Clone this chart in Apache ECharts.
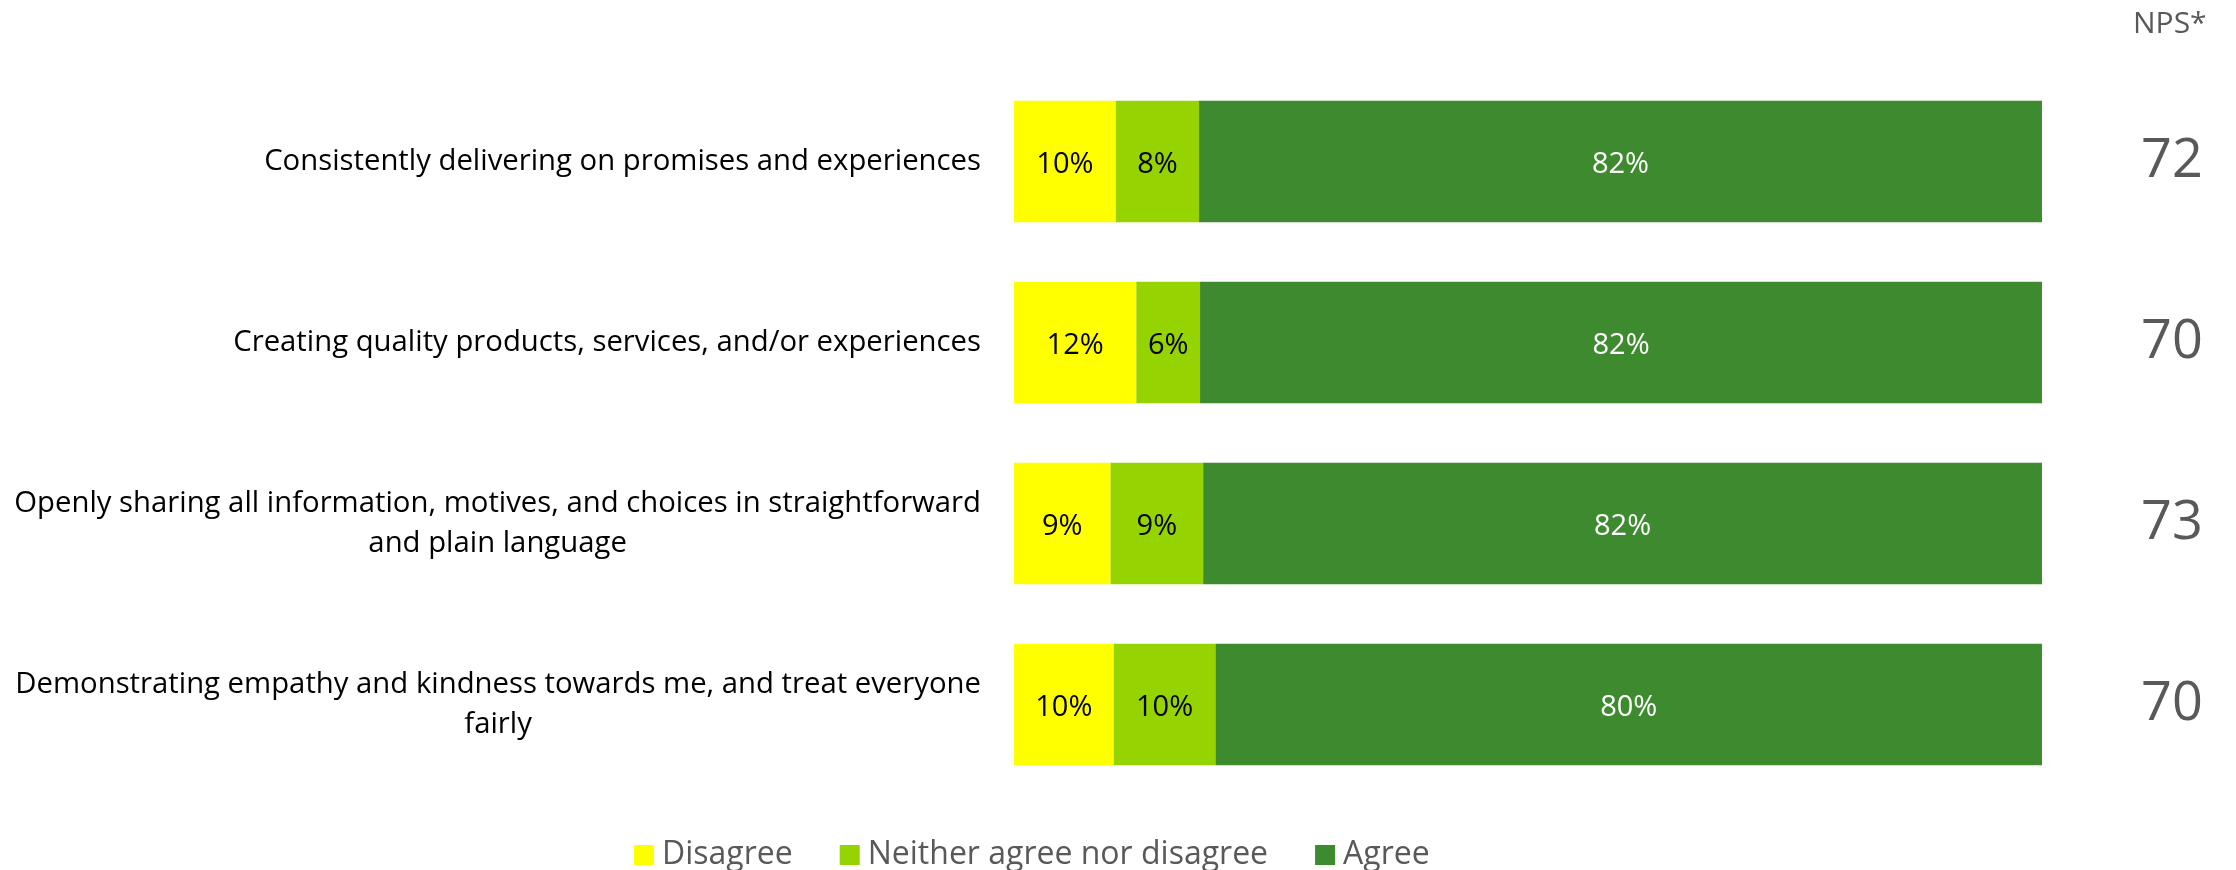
<!DOCTYPE html>
<html>
<head>
<meta charset="utf-8">
<script src="https://cdn.jsdelivr.net/npm/echarts@6/dist/echarts.min.js"></script>
<style>
html,body{margin:0;padding:0;background:#fff;}
#chart{width:2236px;height:870px;}
</style>
</head>
<body>
<div id="chart"></div>
<script>
const categories = [
  "Consistently delivering on promises and experiences",
  "Creating quality products, services, and/or experiences",
  "Openly sharing all information, motives, and choices in straightforward\nand plain language",
  "Demonstrating empathy and kindness towards me, and treat everyone\nfairly"
];
const disagree = [9.9, 11.9, 9.4, 9.7];
const neither = [8.1, 6.2, 9.0, 9.9];
const agree = [82.0, 81.9, 81.6, 80.4];
const npsValues = ["72", "70", "73", "70"];
const seriesNames = ["Disagree", "Neither agree nor disagree", "Agree"];

const FONT = "'Open Sans', sans-serif";
const chart = echarts.init(document.getElementById('chart'), null, {renderer: 'canvas'});

function pct(p) { return Math.round(p.value) + '%'; }

const option = {
  animation: false,
  textStyle: { fontFamily: FONT },
  grid: { left: 1014, right: 194, top: 71, bottom: 75, containLabel: false },
  legend: {
    left: 629, top: 834,
    itemWidth: 20, itemHeight: 20, itemGap: 47,
    icon: 'rect',
    textStyle: { fontSize: 32, color: '#595959', fontFamily: FONT, padding: [0, 0, 0, 3] },
    data: seriesNames
  },
  graphic: [{
    type: 'text', left: 2133, top: 9,
    style: { text: 'NPS*', fontSize: 30, fill: '#595959', fontFamily: FONT }
  }],
  xAxis: { type: 'value', min: 0, max: 100, show: false },
  yAxis: [{
    type: 'category', inverse: true, data: categories,
    axisLine: { show: false }, axisTick: { show: false }, splitLine: { show: false },
    axisLabel: {
      margin: 33, fontSize: 29.3, color: '#000', fontFamily: FONT,
      formatter: function (v) {
        return v.split('\n').map(function (l) { return '{c|' + l + '}'; }).join('\n');
      },
      rich: { c: { align: 'center', fontSize: 29.3, lineHeight: 40, color: '#000', fontFamily: FONT } }
    }
  }, {
    type: 'category', inverse: true, position: 'right', data: npsValues,
    axisLine: { show: false }, axisTick: { show: false }, splitLine: { show: false },
    axisLabel: { margin: 130, align: 'center', fontSize: 54, color: '#595959', fontFamily: FONT, padding: [6, 0, 0, 0] }
  }],
  series: [{
    name: seriesNames[0], type: 'bar', stack: 'a', data: disagree, barCategoryGap: '33%',
    itemStyle: { color: '#FFFF00' },
    label: { show: true, position: 'inside', offset: [0, 3], formatter: pct, fontSize: 29, color: '#000', fontFamily: FONT }
  }, {
    name: seriesNames[1], type: 'bar', stack: 'a', data: neither,
    itemStyle: { color: '#95D400' },
    label: { show: true, position: 'inside', offset: [0, 3], formatter: pct, fontSize: 29, color: '#000', fontFamily: FONT }
  }, {
    name: seriesNames[2], type: 'bar', stack: 'a', data: agree,
    itemStyle: { color: '#3E8A2F' },
    label: { show: true, position: 'inside', offset: [0, 3], formatter: pct, fontSize: 29, color: '#fff', fontFamily: FONT }
  }]
};
chart.setOption(option);
</script>
</body>
</html>
